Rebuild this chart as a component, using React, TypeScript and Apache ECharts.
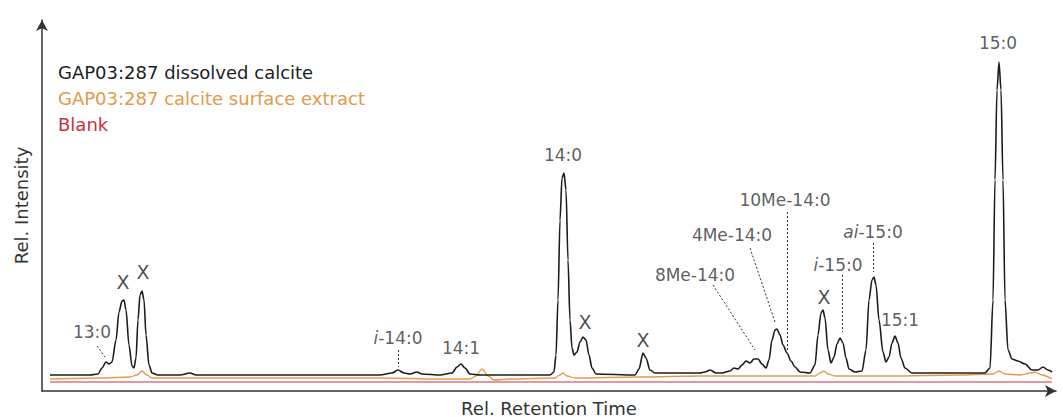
import React, { useEffect, useRef } from "react";
import * as echarts from "echarts";

// Relative retention time (arbitrary units) and relative intensity (arbitrary units)
const blackX = [8, 28, 48, 56, 60, 64, 67, 70, 74, 77, 80, 82, 84, 87, 90, 92, 94, 96, 98, 100, 102, 104, 107, 110, 116, 138, 148, 154, 258, 338, 350, 356, 362, 368, 375, 380, 398, 410, 415, 419, 423, 428, 438, 508, 512, 514, 516, 518, 520, 522, 524, 526, 528, 530, 532, 535, 538, 541, 544, 547, 550, 554, 593, 597, 601, 604, 608, 613, 658, 663, 668, 674, 680, 688, 692, 696, 700, 704, 708, 712, 716, 720, 724, 727, 730, 733, 735, 738, 741, 745, 749, 753, 758, 768, 773, 776, 779, 781, 783, 786, 789, 792, 795, 798, 801, 804, 807, 813, 820, 824, 827, 830, 832, 834, 837, 841, 844, 847, 850, 853, 856, 859, 863, 870, 888, 898, 904, 943, 948, 951, 953, 955, 957, 959, 961, 963, 966, 970, 976, 983, 990, 996, 1001, 1006, 1010];
const blackY = [16, 16, 16, 17, 23, 29, 27, 29, 51, 79, 90, 91, 81, 46, 25, 23, 33, 71, 96, 100, 91, 56, 26, 18, 16, 16, 18, 16, 16, 16, 18, 21, 18, 17, 19, 17, 16, 18, 24, 27, 23, 17, 16, 16, 19, 36, 91, 171, 213, 218, 201, 131, 71, 43, 36, 39, 49, 54, 51, 36, 23, 17, 16, 22, 38, 33, 21, 18, 18, 19, 21, 18, 18, 20, 23, 22, 26, 30, 28, 32, 32, 27, 23, 31, 51, 61, 62, 56, 46, 38, 30, 24, 19, 18, 26, 56, 78, 81, 73, 41, 28, 34, 47, 53, 48, 33, 22, 19, 20, 41, 91, 111, 114, 106, 71, 39, 29, 34, 48, 55, 48, 33, 23, 18, 18, 18, 18, 18, 23, 91, 211, 301, 329, 301, 211, 91, 41, 32, 30, 27, 21, 21, 24, 21, 19];

const orangeX = [8, 58, 88, 95, 100, 105, 110, 158, 238, 338, 398, 428, 434, 440, 446, 452, 468, 513, 518, 521, 525, 533, 598, 658, 718, 773, 778, 782, 786, 793, 848, 918, 951, 957, 963, 978, 988, 993, 1000, 1010];
const orangeY = [12, 13, 14, 16, 20, 16, 13, 13, 13, 13, 12, 12, 15, 22, 15, 11, 12, 13, 16, 18, 15, 13, 14, 15, 15, 15, 18, 20, 17, 15, 15, 16, 17, 20, 17, 16, 18, 19, 16, 12];

const blankX = [8, 250, 500, 750, 1010];
const blankY = [9, 9, 9, 9, 9];

const seriesNames = [
  "GAP03:287 dissolved calcite",
  "GAP03:287 calcite surface extract",
  "Blank",
];

const peakLabels = ["13:0", "X", "X", "{it|i}-14:0", "14:1", "14:0", "X", "X", "8Me-14:0", "4Me-14:0", "10Me-14:0", "X", "{it|i}-15:0", "{it|ai}-15:0", "15:1", "15:0"];
const peakLabelX = [50, 81, 101, 356, 419, 521, 543, 601, 653, 690, 743, 782, 796, 831, 858, 956];
const peakLabelY = [59, 109, 119, 53, 43, 236, 69, 51, 116, 156, 191, 94, 126, 159, 71, 348];

const leaderFrom = [[55, 45], [356, 41], [671, 106], [708, 143], [745, 179], [800, 116], [831, 148]];
const leaderTo = [[63, 34], [356, 24], [713, 41], [733, 69], [745, 41], [800, 59], [831, 119]];

const colors = ["#1c1c1c", "#e39a48", "#c8323c"];
const FONT = "DejaVu Sans";

function zip(xs: number[], ys: number[]) {
  return xs.map((x, i) => [x, ys[i]]);
}

export default function App() {
  const ref = useRef<HTMLDivElement>(null);
  useEffect(() => {
    if (!ref.current) return;
    const chart = echarts.init(ref.current, undefined, { renderer: "svg" });
    const axisLine = {
      show: true,
      symbol: ["none", "arrow"],
      symbolSize: [9, 11],
      lineStyle: { color: "#333", width: 1.5 },
    };
    chart.setOption({
      animation: false,
      backgroundColor: "#ffffff",
      textStyle: { fontFamily: FONT },
      grid: { left: 42, right: 7, top: 20, bottom: 26, outerBoundsMode: "none", containLabel: false },
      legend: {
        orient: "vertical",
        left: 48,
        top: 58,
        icon: "none",
        itemWidth: 0,
        itemHeight: 14,
        itemGap: 8,
        selectedMode: false,
        textStyle: { fontSize: 18, fontFamily: FONT },
        data: seriesNames.map((n, i) => ({ name: n, textStyle: { color: colors[i] } })),
      },
      xAxis: {
        type: "value",
        min: 0,
        max: 1014,
        name: "Rel. Retention Time",
        nameLocation: "middle",
        nameGap: 8,
        nameTextStyle: { fontSize: 18, color: "#333", fontFamily: FONT },
        axisLine,
        axisTick: { show: false },
        axisLabel: { show: false },
        splitLine: { show: false },
      },
      yAxis: {
        type: "value",
        min: 0,
        max: 371,
        name: "Rel. Intensity",
        nameLocation: "middle",
        nameGap: 12,
        nameTextStyle: { fontSize: 18, color: "#333", fontFamily: FONT },
        axisLine,
        axisTick: { show: false },
        axisLabel: { show: false },
        splitLine: { show: false },
      },
      series: [
        {
          name: seriesNames[2],
          type: "line",
          data: zip(blankX, blankY),
          showSymbol: false,
          lineStyle: { color: colors[2], width: 1.2 },
          itemStyle: { color: colors[2] },
          z: 2,
        },
        {
          name: seriesNames[1],
          type: "line",
          data: zip(orangeX, orangeY),
          showSymbol: false,
          smooth: 0.3,
          smoothMonotone: "x",
          lineStyle: { color: colors[1], width: 1.3 },
          itemStyle: { color: colors[1] },
          z: 3,
        },
        {
          name: seriesNames[0],
          type: "line",
          data: zip(blackX, blackY),
          showSymbol: false,
          smooth: 0.3,
          smoothMonotone: "x",
          lineStyle: { color: colors[0], width: 1.6 },
          itemStyle: { color: colors[0] },
          z: 4,
        },
        {
          name: "leaders",
          type: "lines",
          coordinateSystem: "cartesian2d",
          silent: true,
          data: leaderFrom.map((f, i) => ({ coords: [f, leaderTo[i]] })),
          lineStyle: { color: "#333", width: 1, type: [2, 2], opacity: 1 },
          z: 5,
        },
        {
          name: "labels",
          type: "scatter",
          silent: true,
          symbolSize: 0,
          data: peakLabelX.map((x, i) => ({
            value: [x, peakLabelY[i]],
            label: peakLabels[i] === "X" ? { fontSize: 19, color: "#1c1c1c" } : undefined,
          })),
          label: {
            show: true,
            position: "inside",
            formatter: (p: any) => peakLabels[p.dataIndex],
            color: "#333",
            fontSize: 17,
            fontFamily: FONT,
            rich: {
              it: { fontStyle: "italic", fontSize: 17, color: "#333", fontFamily: FONT },
            },
          },
          z: 6,
        },
      ],
    });
    return () => chart.dispose();
  }, []);
  return (
    <div
      ref={ref}
      style={{ position: "absolute", left: 0, top: 0, width: 1063, height: 417 }}
    />
  );
}
